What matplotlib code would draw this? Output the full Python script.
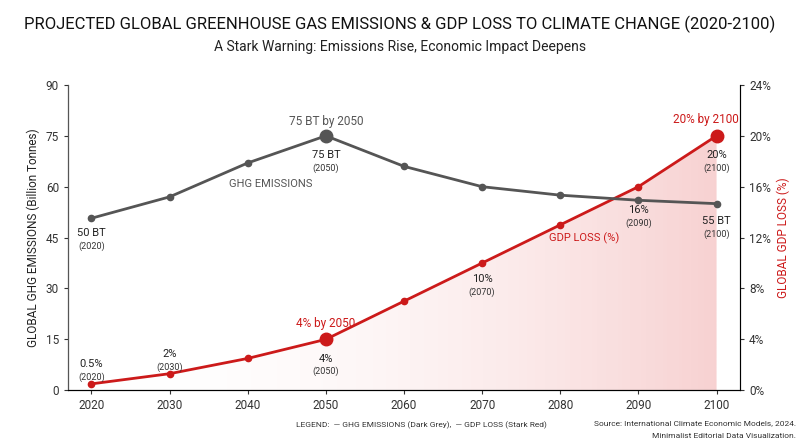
import matplotlib
matplotlib.use("Agg")
import matplotlib.pyplot as plt
import numpy as np

years = [2020, 2030, 2040, 2050, 2060, 2070, 2080, 2090, 2100]
ghg = [50.7, 57, 67, 75, 66, 60, 57.5, 56, 55]
gdp = [0.5, 1.3, 2.5, 4, 7, 10, 13, 16, 20]

plt.rcParams['font.family'] = ['Roboto', 'DejaVu Sans']
fig = plt.figure(figsize=(8, 4.47), dpi=100)
ax = fig.add_axes([0.085, 0.127, 0.84, 0.683])
ax2 = ax.twinx()
grey = '#555555'; red = '#cc1a1a'

ax.set_xlim(2017, 2103)
ax.set_ylim(0, 90)
ax.set_yticks(range(0, 91, 15))
ax2.set_ylim(0, 24)
ax2.set_yticks(range(0, 25, 4))
ax2.set_yticklabels([f"{v}%" for v in range(0, 25, 4)])
ax.set_xticks(years)
for a in (ax, ax2):
    a.spines['top'].set_visible(False)
    a.tick_params(labelsize=8.5, colors='#333333', length=3)
ax.spines['left'].set_color('#555'); ax2.spines['right'].set_color('#555')
ax.set_ylabel('GLOBAL GHG EMISSIONS (Billion Tonnes)', fontsize=8.5, color='#222')
ax2.set_ylabel('GLOBAL GDP LOSS (%)', fontsize=8.5, color=red)

xs = np.linspace(2020, 2100, 300)
ys = np.interp(xs, years, gdp)
grad = np.linspace(0, 1, 256).reshape(1, -1)
from matplotlib.colors import LinearSegmentedColormap
cmap = LinearSegmentedColormap.from_list('g', [(1, 1, 1, 0), (0.85, 0.1, 0.1, 0.2)])
im = ax2.imshow(grad, extent=[2020, 2100, 0, 24], aspect='auto', cmap=cmap, zorder=0)
poly = ax2.fill_between(xs, 0, ys, color='none')
im.set_clip_path(poly.get_paths()[0], transform=ax2.transData)

ax.plot(years, ghg, color=grey, lw=2, marker='o', ms=4.5, zorder=3)
ax.plot([2050], [75], 'o', color=grey, ms=9, zorder=4)
ax2.plot(years, gdp, color=red, lw=2, marker='o', ms=4.5, zorder=3)
ax2.plot([2050, 2100], [4, 20], 'o', color=red, ms=9, zorder=4)
ax.set_zorder(ax2.get_zorder() + 1); ax.patch.set_visible(False)

def lab(a, x, y, t, s, dy=-12):
    a.annotate(t, (x, y), xytext=(0, dy), textcoords='offset points', ha='center', fontsize=8, color='#222')
    a.annotate(s, (x, y), xytext=(0, dy - 9), textcoords='offset points', ha='center', fontsize=6.5, color='#333')

lab(ax, 2020, ghg[0], '50 BT', '(2020)', -13)
lab(ax, 2050, 75, '75 BT', '(2050)', -16)
lab(ax, 2100, 55, '55 BT', '(2100)', -15)
ax.annotate('75 BT by 2050', (2050, 75), xytext=(0, 8), textcoords='offset points', ha='center', fontsize=8.5, color='#555')
ax.text(2043, 60, 'GHG EMISSIONS', fontsize=8, color='#555', ha='center')
lab(ax2, 2020, 0.5, '0.5%', '(2020)', 12)
lab(ax2, 2030, 1.3, '2%', '(2030)', 12)
lab(ax2, 2050, 4, '4%', '(2050)', -16)
lab(ax2, 2070, 10, '10%', '(2070)', -14)
lab(ax2, 2090, 16, '16%', '(2090)', -19)
lab(ax2, 2100, 20, '20%', '(2100)', -16)
ax2.annotate('4% by 2050', (2050, 4), xytext=(0, 9), textcoords='offset points', ha='center', fontsize=8.5, color=red)
ax2.annotate('20% by 2100', (2100, 20), xytext=(-8, 9), textcoords='offset points', ha='center', fontsize=8.5, color=red)
ax2.text(2083, 11.7, 'GDP LOSS (%)', fontsize=8, color=red, ha='center')

fig.text(0.5, 0.935, 'PROJECTED GLOBAL GREENHOUSE GAS EMISSIONS & GDP LOSS TO CLIMATE CHANGE (2020-2100)', ha='center', fontsize=12, color='#111')
fig.text(0.5, 0.885, 'A Stark Warning: Emissions Rise, Economic Impact Deepens', ha='center', fontsize=10, color='#222')
fig.text(0.37, 0.045, 'LEGEND:  — GHG EMISSIONS (Dark Grey),  — GDP LOSS (Stark Red)', fontsize=6, color='#333')
fig.text(0.995, 0.048, 'Source: International Climate Economic Models, 2024.', fontsize=6, color='#333', ha='right')
fig.text(0.995, 0.02, 'Minimalist Editorial Data Visualization.', fontsize=6, color='#333', ha='right')
fig.savefig('out.png', dpi=100)
